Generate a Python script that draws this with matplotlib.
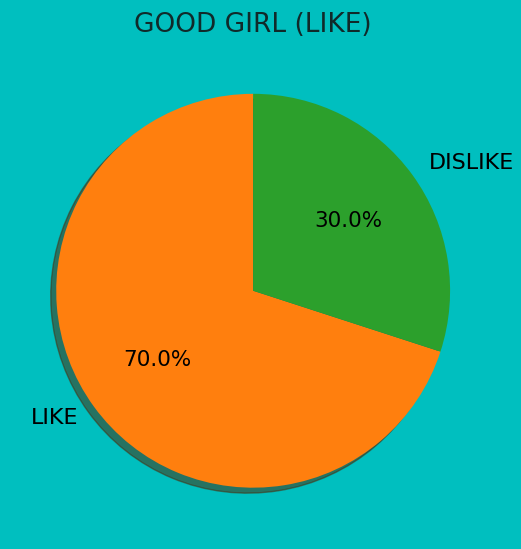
import matplotlib
matplotlib.use("Agg")
import matplotlib.pyplot as plt

labels = ["LIKE", "DISLIKE"]
values = [70, 30]
colors = ["#ff7f0e", "#2ca02c"]
title = "GOOD GIRL (LIKE)"

fig = plt.figure(figsize=(5.21, 5.49), dpi=100, facecolor="c")
ax = fig.add_axes([0.0134, 0.0219, 0.945, 0.897])
ax.set_facecolor("c")
wedges, texts, autotexts = ax.pie(values, labels=labels, colors=colors, autopct="%1.1f%%",
                                  startangle=90, shadow=True,
                                  textprops={"fontsize": 16})
for t in autotexts:
    t.set_fontsize(15.5)
ax.set_title(title, fontsize=19, pad=9, color="#102a2a")
fig.savefig("out.png", dpi=100, facecolor="c")
